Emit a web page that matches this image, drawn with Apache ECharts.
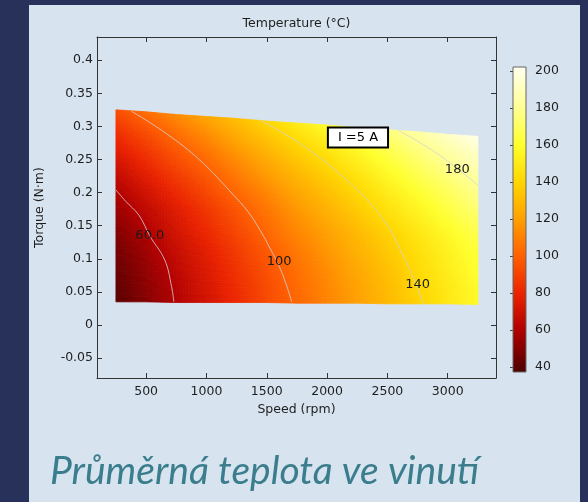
<!DOCTYPE html>
<html>
<head>
<meta charset="utf-8">
<script src="https://cdn.jsdelivr.net/npm/echarts@6/dist/echarts.min.js"></script>
<style>
  html, body { margin: 0; padding: 0; background: #273159; }
  #panel { position: absolute; left: 29px; top: 5px; width: 551px; height: 497px; background: #d7e3ef; }
  #chart { position: absolute; left: 0; top: 0; width: 588px; height: 502px; }
</style>
</head>
<body>
<div id="panel"></div>
<div id="chart"></div>
<script>
// ---------------- DATA ----------------
const speeds = [250, 500, 750, 1000, 1250, 1500, 1750, 2000, 2250, 2500, 2750, 3000, 3250];
const torqueLow  = [0.035, 0.035, 0.034, 0.034, 0.034, 0.034, 0.033, 0.033, 0.033, 0.032, 0.032, 0.032, 0.031];
const torqueHigh = [0.325, 0.322, 0.318, 0.315, 0.312, 0.308, 0.305, 0.302, 0.298, 0.295, 0.292, 0.288, 0.285];
const rowFractions = [0, 0.1, 0.2, 0.3, 0.4, 0.5, 0.6, 0.7, 0.8, 0.9, 1.0];
// temperature (°C): one row per fraction of the torque span, one column per speed
const temperature = [
  [40, 50, 61, 71, 81, 92, 102, 111, 120, 129, 138, 148, 157],
  [42, 52, 62, 73, 83, 93, 103, 112, 121, 130, 140, 149, 158],
  [44, 54, 65, 75, 85, 95, 105, 114, 123, 132, 142, 151, 160],
  [47, 57, 68, 78, 88, 98, 108, 117, 126, 135, 144, 153, 162],
  [51, 61, 72, 82, 92, 102, 112, 120, 129, 138, 147, 156, 165],
  [56, 66, 76, 86, 96, 106, 116, 125, 134, 143, 152, 161, 170],
  [62, 72, 82, 92, 102, 111, 121, 130, 139, 148, 157, 166, 175],
  [69, 79, 89, 98, 108, 118, 127, 136, 144, 154, 163, 171, 180],
  [77, 86, 96, 105, 115, 124, 134, 142, 151, 160, 169, 178, 186],
  [85, 94, 104, 113, 123, 132, 141, 150, 158, 167, 176, 184, 192],
  [94, 104, 113, 122, 131, 140, 150, 158, 166, 176, 184, 192, 200]
];
// contour lines (speed rpm, torque N·m)
const contour60  = [[250, 0.204], [330, 0.187], [440, 0.166], [531, 0.1345], [655, 0.098], [711, 0.058], [730, 0.035]];
const contour100 = [[379, 0.323], [669, 0.289], [946, 0.249], [1216, 0.198], [1350, 0.17], [1444, 0.1435], [1530, 0.115], [1600, 0.09], [1660, 0.062], [1707, 0.035]];
const contour140 = [[1458, 0.308], [1777, 0.274], [2192, 0.214], [2468, 0.1586], [2621, 0.108], [2746, 0.058], [2793, 0.033]];
const contour180 = [[2593, 0.294], [2912, 0.259], [3250, 0.2113]];
const contourLabels = [
  { name: '60.0', value: [531, 0.1345] },
  { name: '100',  value: [1602, 0.0957] },
  { name: '140',  value: [2751, 0.0615] },
  { name: '180',  value: [3079, 0.2341] }
];
const annotation = { name: 'I =5 A', value: [2256, 0.2834] };
const xTicks = [500, 1000, 1500, 2000, 2500, 3000];
const yTicks = [-0.05, 0, 0.05, 0.1, 0.15, 0.2, 0.25, 0.3, 0.35, 0.4];
const colorbarTicks = [40, 60, 80, 100, 120, 140, 160, 180, 200];
const colorRange = [37.2, 202.3];

// ---------------- STYLE ----------------
const cmapT = [37.2, 60, 80, 100, 120, 140, 160, 180, 202.3];
const cmapC = ['#4d0000', '#b00000', '#eb2400', '#ff6000', '#ffa000', '#ffd600', '#ffff2e', '#ffff92', '#fffff0'];
const cmapRGB = cmapC.map(h => [parseInt(h.substr(1,2),16), parseInt(h.substr(3,2),16), parseInt(h.substr(5,2),16)]);
function cmap(t) {
  if (t <= cmapT[0]) return cmapC[0];
  if (t >= cmapT[cmapT.length-1]) return cmapC[cmapC.length-1];
  let k = 0;
  while (t > cmapT[k+1]) k++;
  const f = (t - cmapT[k]) / (cmapT[k+1] - cmapT[k]);
  const a = cmapRGB[k], b = cmapRGB[k+1];
  const c = [0,1,2].map(i => Math.round(a[i] + (b[i]-a[i])*f));
  return 'rgb(' + c.join(',') + ')';
}
const FONT = 'DejaVu Sans';
const TXT = '#1e1e1e';
const AX = '#333';
const plain = v => String(v);

const cellData = [];
for (let r = 0; r < rowFractions.length - 1; r++)
  for (let c = 0; c < speeds.length - 1; c++) cellData.push([c, r]);

function renderCell(params, api) {
  const c = api.value(0), r = api.value(1);
  const corner = (cc, rr) => api.coord([speeds[cc], torqueLow[cc] + rowFractions[rr] * (torqueHigh[cc] - torqueLow[cc])]);
  const p00 = corner(c, r), p10 = corner(c+1, r), p01 = corner(c, r+1), p11 = corner(c+1, r+1);
  const t00 = temperature[r][c], t10 = temperature[r][c+1], t01 = temperature[r+1][c], t11 = temperature[r+1][c+1];
  const N = 10;
  const P = (u, v) => [
    (1-u)*(1-v)*p00[0] + u*(1-v)*p10[0] + (1-u)*v*p01[0] + u*v*p11[0],
    (1-u)*(1-v)*p00[1] + u*(1-v)*p10[1] + (1-u)*v*p01[1] + u*v*p11[1]
  ];
  const children = [];
  for (let i = 0; i < N; i++) {
    for (let j = 0; j < N; j++) {
      const u0 = i/N, u1 = (i+1)/N, v0 = j/N, v1 = (j+1)/N;
      const uc = (i+0.5)/N, vc = (j+0.5)/N;
      const t = (1-uc)*(1-vc)*t00 + uc*(1-vc)*t10 + (1-uc)*vc*t01 + uc*vc*t11;
      const col = cmap(t);
      children.push({
        type: 'polygon', silent: true,
        shape: { points: [P(u0,v0), P(u1,v0), P(u1,v1), P(u0,v1)] },
        style: { fill: col, stroke: col, lineWidth: 0.8 }
      });
    }
  }
  return { type: 'group', children };
}

function renderColorbar(params, api) {
  const top = api.coord([0, colorRange[1]]);
  const bot = api.coord([1, colorRange[0]]);
  const stops = cmapT.map((t, i) => ({ offset: (colorRange[1] - t) / (colorRange[1] - colorRange[0]), color: cmapC[i] }))
    .sort((a, b) => a.offset - b.offset);
  return {
    type: 'rect',
    shape: { x: top[0], y: top[1], width: bot[0] - top[0], height: bot[1] - top[1] },
    style: { fill: new echarts.graphic.LinearGradient(0, 0, 0, 1, stops), stroke: '#666', lineWidth: 1 }
  };
}

const contourStyle = { color: 'rgba(210,210,210,0.8)', width: 1 };
function contourSeries(data) {
  return { type: 'line', xAxisIndex: 0, yAxisIndex: 0, data, showSymbol: false, symbol: 'none',
           smooth: 0.4, lineStyle: contourStyle, silent: true, z: 3 };
}

const chart = echarts.init(document.getElementById('chart'), null, { renderer: 'canvas' });
chart.setOption({
  animation: false,
  backgroundColor: 'transparent',
  textStyle: { fontFamily: FONT },
  grid: [
    { left: 97, top: 37, width: 399, height: 341, show: false },
    { left: 513, top: 67, width: 13, height: 305, show: false }
  ],
  xAxis: [
    { type: 'value', gridIndex: 0, min: 93, max: 3400, position: 'bottom',
      axisLine: { show: true, onZero: false, lineStyle: { color: AX, width: 1 } },
      axisTick: { show: true, inside: true, length: 5, customValues: xTicks, lineStyle: { color: AX } },
      axisLabel: { customValues: xTicks, formatter: plain, color: TXT, fontSize: 12.5, margin: 7, fontFamily: FONT },
      splitLine: { show: false },
      name: 'Speed (rpm)', nameLocation: 'middle', nameGap: 20,
      nameTextStyle: { color: TXT, fontSize: 12.5, fontFamily: FONT } },
    { type: 'value', gridIndex: 0, min: 93, max: 3400, position: 'top',
      axisLine: { show: true, onZero: false, lineStyle: { color: AX, width: 1 } },
      axisTick: { show: true, inside: true, length: 5, customValues: xTicks, lineStyle: { color: AX } },
      axisLabel: { show: false }, splitLine: { show: false },
      name: 'Temperature (°C)', nameLocation: 'middle', nameGap: 7,
      nameTextStyle: { color: TXT, fontSize: 12.5, fontFamily: FONT } },
    { type: 'value', gridIndex: 1, min: 0, max: 1, show: false }
  ],
  yAxis: [
    { type: 'value', gridIndex: 0, min: -0.08, max: 0.435, position: 'left',
      axisLine: { show: true, onZero: false, lineStyle: { color: AX, width: 1 } },
      axisTick: { show: true, inside: true, length: 5, customValues: yTicks, lineStyle: { color: AX } },
      axisLabel: { customValues: yTicks, formatter: plain, color: TXT, fontSize: 12.5, margin: 4, fontFamily: FONT },
      splitLine: { show: false },
      name: 'Torque (N·m)', nameLocation: 'middle', nameGap: 51,
      nameTextStyle: { color: TXT, fontSize: 12.5, fontFamily: FONT } },
    { type: 'value', gridIndex: 0, min: -0.08, max: 0.435, position: 'right',
      axisLine: { show: true, onZero: false, lineStyle: { color: AX, width: 1 } },
      axisTick: { show: true, inside: true, length: 5, customValues: yTicks, lineStyle: { color: AX } },
      axisLabel: { show: false }, splitLine: { show: false } },
    { type: 'value', gridIndex: 1, min: colorRange[0], max: colorRange[1], position: 'right',
      axisLine: { show: false },
      axisTick: { show: true, inside: true, length: 3, customValues: colorbarTicks, lineStyle: { color: '#444' } },
      axisLabel: { customValues: colorbarTicks, formatter: plain, color: TXT, fontSize: 12.5, margin: 9, fontFamily: FONT },
      splitLine: { show: false } },
    { type: 'value', gridIndex: 1, min: colorRange[0], max: colorRange[1], position: 'left',
      axisLine: { show: false },
      axisTick: { show: true, inside: true, length: 3, customValues: colorbarTicks, lineStyle: { color: '#444' } },
      axisLabel: { show: false }, splitLine: { show: false } }
  ],
  graphic: [
    { type: 'text', left: 50, top: 452, silent: true,
      style: { text: 'Průměrná teplota ve vinutí', font: 'italic 39px Lato', fill: '#3a7d8c' } }
  ],
  series: [
    { type: 'custom', xAxisIndex: 0, yAxisIndex: 0, data: cellData, renderItem: renderCell, silent: true, z: 1, clip: false },
    contourSeries(contour60),
    contourSeries(contour100),
    contourSeries(contour140),
    contourSeries(contour180),
    { type: 'scatter', xAxisIndex: 0, yAxisIndex: 0, data: contourLabels, symbolSize: 0.1,
      itemStyle: { color: 'transparent', opacity: 1 }, silent: true, z: 4,
      label: { show: true, position: 'inside', formatter: p => p.name, color: '#1a1a1a', fontSize: 13, fontFamily: FONT } },
    { type: 'scatter', xAxisIndex: 0, yAxisIndex: 0, data: [annotation], symbolSize: 0.1,
      itemStyle: { color: 'transparent', opacity: 1 }, silent: true, z: 5,
      label: { show: true, position: 'inside', formatter: p => p.name, color: '#000', fontSize: 13, fontFamily: FONT, opacity: 1,
               backgroundColor: '#ffffff', borderColor: '#000000', borderWidth: 2, padding: [3, 9, 2, 9] } },
    { type: 'custom', xAxisIndex: 2, yAxisIndex: 2, data: [[0, 0]], renderItem: renderColorbar, silent: true, z: 1, clip: false }
  ]
});
</script>
</body>
</html>
